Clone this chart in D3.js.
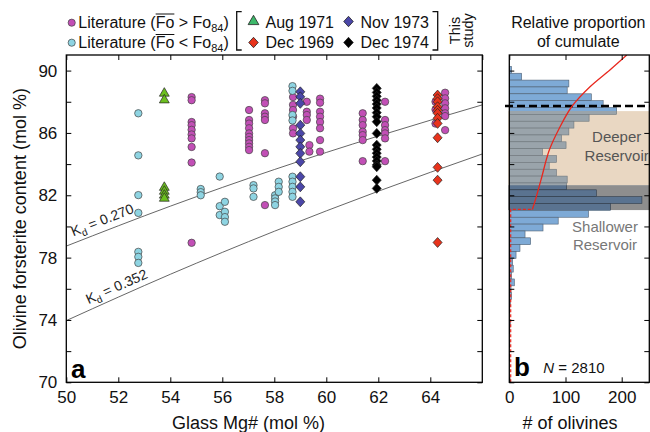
<!DOCTYPE html>
<html>
<head>
<meta charset="utf-8">
<script src="https://cdn.jsdelivr.net/npm/d3@7"></script>
<style>
body { margin: 0; background: #fff; }
svg { display: block; font-family: "Liberation Sans", Arial, Helvetica, sans-serif; }
</style>
</head>
<body>
<svg id="chart" width="650" height="432"></svg>
<script>
// ---- data ----
// each entry: [glass Mg#, [olivine Fo values...]]
const litHigh = [
    [54.82, [88.3, 88.1, 86.7, 86.5, 86.2, 85.9, 85.65, 85.1, 84.1, 78.95]],
    [57.03, [87.47, 86.83, 86.6, 86.3, 85.97, 85.75, 85.54, 85.33, 85.11, 84.9]],
    [57.64, [88.1, 87.9, 87.26, 87.04, 86.83, 84.7, 81.37]],
    [58.72, [88.3, 87.8, 87.47, 87.04, 86.3, 85.97]],
    [59.25, [88.0, 87.36, 87.15, 86.83]],
    [59.35, [85.22, 84.8]],
    [59.76, [88.2, 87.94, 87.36, 87.04, 86.7, 86.3, 85.54, 84.8]],
    [61.4, [87.26, 86.83, 86.5, 86.08, 85.86, 85.54, 84.19]],
    [62.26, [88.0, 86.83, 86.5, 86.18, 85.97, 85.65, 84.19]],
    [64.2, [88.0, 87.5, 86.6]],
    [64.57, [88.58, 88.22, 87.9, 87.58, 87.26, 87.08, 86.18]]
];
const litLow = [
    [52.77, [87.26, 84.56, 82.01, 80.87, 78.37, 78.05, 77.66]],
    [55.17, [82.4, 82.2, 82.0]],
    [55.9, [83.2, 81.3, 80.73]],
    [56.1, [81.58, 80.94, 80.6, 80.3]],
    [57.2, [82.65, 82.44, 81.9]],
    [58.03, [82.0, 81.8, 81.6, 81.37]],
    [58.17, [82.87, 82.54, 82.22]],
    [58.7, [89.0, 88.7, 87.15, 86.8, 83.19, 82.87, 82.54, 82.22, 81.9]]
];
const aug1971 = [[53.77, [88.54, 88.11, 82.5, 82.25, 82.0, 81.8]]];
const nov1973 = [[59.0, [88.64, 88.32, 87.9, 86.5, 85.97, 85.54, 85.11, 84.69, 84.15, 83.19, 82.54, 81.58]]];
const dec1974 = [[61.94, [88.86, 88.6, 88.35, 88.1, 87.85, 87.6, 87.3, 87.04, 86.72, 85.97,
                          85.22, 84.95, 84.7, 84.45, 84.2, 83.95, 83.83, 82.97, 82.44]]];
const dec1969 = [[64.28, [88.43, 88.2, 88.0, 87.68, 87.45, 87.26, 86.94, 86.61, 85.69, 83.79, 82.97, 78.97]]];

// equilibrium lines [Mg#, Fo]
const kd270 = [[50, 78.74], [54, 81.3], [58, 83.65], [62, 85.8], [66, 87.8]];
const kd352 = [[50, 73.96], [54, 76.93], [58, 79.69], [62, 82.26], [66, 84.65]];

// histogram of olivines (panel b), bins from the top down
const binTop = 90.27;
const binStep = 0.44;
const olivineCounts = [4, 22, 106, 103, 146, 167, 191, 142, 115, 106, 93, 101, 59, 84, 71, 84,
    103, 102, 155, 236, 180, 141, 87, 60, 28, 38, 19, 12, 6, 7, 4, 9, 3, 4, 2, 1,
    0, 2, 1, 0, 1, 0, 1, 0];

// relative proportion of cumulate curve [Fo, x in count units]
const cumFo = [81.09, 81.69, 83.0, 84.9, 86.3, 87.68, 88.96, 90.04, 91.0];
const cumVal = [41, 46.3, 56.5, 71.2, 89, 111, 143.6, 179, 209];
const cumTailFo = [70, 81.09, 81.09];
const cumTailVal = [2.5, 2.5, 41];

// reservoir zones
const fo84Line = 87.73;
const deepTop = 87.4, deepBottom = 82.65, bandBottom = 81.05;

const mgTicks = [50, 52, 54, 56, 58, 60, 62, 64];
const foTicks = [70, 72, 74, 76, 78, 80, 82, 84, 86, 88, 90];
const countTicks = [0, 100, 200];

// ---- scales ----
const svg = d3.select("#chart");
const x = d3.scaleLinear().domain([50, 66]).range([66.3, 482.3]);
const y = d3.scaleLinear().domain([70, 91]).range([382.3, 55]);
const xb = d3.scaleLinear().domain([0, 250]).range([509.3, 649.8]);

const flat = arr => arr.flatMap(([mg, fos]) => fos.map(fo => ({ mg, fo })));

// custom diamond
const diamond = {
    draw(ctx, size) {
        const w = Math.sqrt(size) / 2, h = w * 1.1;
        ctx.moveTo(0, -h); ctx.lineTo(w, 0); ctx.lineTo(0, h); ctx.lineTo(-w, 0); ctx.closePath();
    }
};

const colHigh = "#c24fb6", colLow = "#8ed4e2";

// ---- panel a ----
const defs = svg.append("defs");
defs.append("clipPath").attr("id", "clipA").append("rect")
    .attr("x", x(50)).attr("y", y(91)).attr("width", x(66) - x(50)).attr("height", y(70) - y(91));

const line = d3.line().x(d => x(d[0])).y(d => y(d[1])).curve(d3.curveMonotoneX);
[kd270, kd352].forEach(pts => {
    svg.append("path").attr("d", line(pts)).attr("fill", "none")
        .attr("stroke", "#555").attr("stroke-width", 0.9).attr("clip-path", "url(#clipA)");
});

function kdLabel(mg, fo, angle, val) {
    const t = svg.append("text")
        .attr("transform", `translate(${x(mg)},${y(fo)}) rotate(${angle})`)
        .attr("font-size", 14).attr("fill", "#222");
    t.append("tspan").text("K");
    t.append("tspan").attr("font-size", 10).attr("dy", 3.5).text("d");
    t.append("tspan").attr("dy", -3.5).text(" = " + val);
}
kdLabel(50.27, 79.35, -21.5, "0.270");
kdLabel(50.85, 75.0, -24, "0.352");

svg.append("g").selectAll("circle").data(flat(litHigh)).join("circle")
    .attr("cx", d => x(d.mg)).attr("cy", d => y(d.fo)).attr("r", 3.7)
    .attr("fill", colHigh).attr("stroke", "#444").attr("stroke-width", 0.7);
svg.append("g").selectAll("circle").data(flat(litLow)).join("circle")
    .attr("cx", d => x(d.mg)).attr("cy", d => y(d.fo)).attr("r", 3.7)
    .attr("fill", colLow).attr("stroke", "#444").attr("stroke-width", 0.7);

function symbols(data, type, size, fill) {
    svg.append("g").selectAll("path").data(flat(data)).join("path")
        .attr("transform", d => `translate(${x(d.mg)},${y(d.fo)})`)
        .attr("d", d3.symbol().type(type).size(size))
        .attr("fill", fill).attr("stroke", "#222").attr("stroke-width", 0.7);
}
symbols(aug1971, d3.symbolTriangle, 42, "#6cbf1f");
symbols(nov1973, diamond, 81, "#4b47a8");
symbols(dec1974, diamond, 81, "#000");
symbols(dec1969, diamond, 81, "#e8331c");

// frame + axes of panel a
function styleAxis(g, size) {
    g.attr("font-family", null).attr("font-size", size);
    g.select(".domain").remove();
    g.selectAll("text").attr("fill", "#111");
    g.selectAll(".tick line").attr("stroke", "#000").attr("stroke-width", 1);
}
svg.append("g").attr("transform", `translate(0,${y(70)})`)
    .call(d3.axisBottom(x).tickValues(mgTicks).tickSize(-5).tickPadding(9))
    .call(g => styleAxis(g, 17));
svg.append("g").attr("transform", `translate(0,${y(91)})`)
    .call(d3.axisTop(x).tickValues(mgTicks.concat([66])).tickSize(-5).tickFormat(""))
    .call(g => styleAxis(g, 17));
svg.append("g").attr("transform", `translate(${x(50)},0)`)
    .call(d3.axisLeft(y).tickValues(foTicks).tickSize(-5).tickPadding(9)
        .tickFormat(d => (d - 70) % 4 === 0 ? d : ""))
    .call(g => styleAxis(g, 17));
svg.append("g").attr("transform", `translate(${x(66)},0)`)
    .call(d3.axisRight(y).tickValues(foTicks).tickSize(-5).tickFormat(""))
    .call(g => styleAxis(g, 17));
svg.append("rect")
    .attr("x", x(50)).attr("y", y(91)).attr("width", x(66) - x(50)).attr("height", y(70) - y(91))
    .attr("fill", "none").attr("stroke", "#000").attr("stroke-width", 1.3);

svg.append("text").attr("x", 71).attr("y", 378).attr("font-size", 26).attr("font-weight", "bold").text("a");
svg.append("text").attr("x", 248.5).attr("y", 428.5).attr("text-anchor", "middle")
    .attr("font-size", 18).attr("fill", "#111").text("Glass Mg# (mol %)");
svg.append("text").attr("transform", `translate(25.5,${(y(70) + y(91)) / 2}) rotate(-90)`)
    .attr("text-anchor", "middle").attr("font-size", 18).attr("fill", "#111")
    .text("Olivine forsterite content (mol %)");

// ---- legend ----
function litLegend(cy, base, fill, sign) {
    svg.append("circle").attr("cx", 71.7).attr("cy", cy).attr("r", 3.6)
        .attr("fill", fill).attr("stroke", "#444").attr("stroke-width", 0.7);
    const t = svg.append("text").attr("x", 78.3).attr("y", base).attr("font-size", 16).attr("fill", "#111");
    t.append("tspan").text("Literature (Fo " + sign + " Fo");
    t.append("tspan").attr("font-size", 11).attr("dy", 4).text("84");
    t.append("tspan").attr("dy", -4).text(")");
    const n = t.node();
    const x0 = n.getStartPositionOfChar(12).x, x1 = n.getEndPositionOfChar(13).x;
    svg.append("line").attr("x1", x0).attr("x2", x1).attr("y1", base - 13.5).attr("y2", base - 13.5)
        .attr("stroke", "#111").attr("stroke-width", 1);
}
litLegend(22.7, 27.5, colHigh, ">");
litLegend(42.7, 48, colLow, "<");

svg.append("path").attr("d", "M241.7,11.7H236.7V50H241.7").attr("fill", "none").attr("stroke", "#111").attr("stroke-width", 1.3);
svg.append("path").attr("d", "M432.5,11.7H437.7V50H432.5").attr("fill", "none").attr("stroke", "#111").attr("stroke-width", 1.3);

const studyLegend = [
    { label: "Aug 1971", type: d3.symbolTriangle, size: 50, fill: "#3db86a", lx: 253.5, ly: 21.5, base: 27.5 },
    { label: "Nov 1973", type: diamond, size: 90, fill: "#4b47a8", lx: 348.5, ly: 21.5, base: 27.5 },
    { label: "Dec 1969", type: diamond, size: 90, fill: "#e8331c", lx: 253.5, ly: 42.5, base: 48 },
    { label: "Dec 1974", type: diamond, size: 90, fill: "#000", lx: 348.5, ly: 42.5, base: 48 }
];
studyLegend.forEach(d => {
    svg.append("path").attr("transform", `translate(${d.lx},${d.ly})`)
        .attr("d", d3.symbol().type(d.type).size(d.size))
        .attr("fill", d.fill).attr("stroke", "#222").attr("stroke-width", 0.8);
    svg.append("text").attr("x", d.lx + 12).attr("y", d.base).attr("font-size", 16)
        .attr("fill", "#111").text(d.label);
});
svg.append("text").attr("transform", "translate(460,30.5) rotate(-90)").attr("text-anchor", "middle")
    .attr("font-size", 14.5).attr("fill", "#111").text("This");
svg.append("text").attr("transform", "translate(472.5,30.5) rotate(-90)").attr("text-anchor", "middle")
    .attr("font-size", 14.5).attr("fill", "#111").text("study");

// ---- panel b ----
defs.append("clipPath").attr("id", "clipB").append("rect")
    .attr("x", xb(0)).attr("y", y(91)).attr("width", xb(250) - xb(0)).attr("height", y(70) - y(91));

svg.append("rect").attr("x", xb(0) - 1).attr("y", y(deepTop)).attr("width", xb(250) - xb(0) + 1)
    .attr("height", y(deepBottom) - y(deepTop)).attr("fill", "#e9d7c2");
svg.append("rect").attr("x", xb(0) - 1).attr("y", y(deepBottom)).attr("width", xb(250) - xb(0) + 1)
    .attr("height", y(bandBottom) - y(deepBottom)).attr("fill", "#8e8e8e");

const bins = olivineCounts.map((c, i) => ({ top: binTop - i * binStep, bottom: binTop - (i + 1) * binStep, count: c }))
    .filter(d => d.count > 0);

const zones = [
    { id: "zHigh", hi: 91, lo: deepTop, fill: "#7eaad6", stroke: "#4f6072" },
    { id: "zDeep", hi: deepTop, lo: deepBottom, fill: "#9aa4ab", stroke: "#6d767c" },
    { id: "zBand", hi: deepBottom, lo: bandBottom, fill: "#5a7390", stroke: "#2f3b48" },
    { id: "zLow", hi: bandBottom, lo: 70, fill: "#7eaad6", stroke: "#4f6072" }
];
zones.forEach(z => {
    defs.append("clipPath").attr("id", z.id).append("rect")
        .attr("x", xb(0) - 2).attr("y", y(z.hi)).attr("width", xb(250) - xb(0) + 2).attr("height", y(z.lo) - y(z.hi));
    svg.append("g").attr("clip-path", `url(#${z.id})`)
        .selectAll("rect").data(bins).join("rect")
        .attr("x", xb(0)).attr("y", d => y(d.top))
        .attr("width", d => xb(d.count) - xb(0)).attr("height", d => y(d.bottom) - y(d.top))
        .attr("fill", z.fill).attr("stroke", z.stroke).attr("stroke-width", 0.6);
});

svg.append("line").attr("x1", 505).attr("x2", 650).attr("y1", y(fo84Line)).attr("y2", y(fo84Line))
    .attr("stroke", "#000").attr("stroke-width", 2.6).attr("stroke-dasharray", "8,4");

const cumLine = d3.line().x(d => xb(d[1])).y(d => y(d[0])).curve(d3.curveCatmullRom.alpha(0.5));
svg.append("path").attr("d", cumLine(cumFo.map((f, i) => [f, cumVal[i]])))
    .attr("fill", "none").attr("stroke", "#e8281e").attr("stroke-width", 1.3).attr("clip-path", "url(#clipB)");
svg.append("path").attr("d", d3.line().x(d => xb(d[1])).y(d => y(d[0]))(cumTailFo.map((f, i) => [f, cumTailVal[i]])))
    .attr("fill", "none").attr("stroke", "#e8281e").attr("stroke-width", 1.2).attr("stroke-dasharray", "3,2");

svg.append("g").attr("transform", `translate(0,${y(70)})`)
    .call(d3.axisBottom(xb).tickValues(countTicks).tickSize(-5).tickPadding(9))
    .call(g => styleAxis(g, 17));
svg.append("g").attr("transform", `translate(0,${y(91)})`)
    .call(d3.axisTop(xb).tickValues(countTicks).tickSize(-5).tickFormat(""))
    .call(g => styleAxis(g, 17));
svg.append("g").attr("transform", `translate(${xb(0)},0)`)
    .call(d3.axisLeft(y).tickValues(foTicks).tickSize(-5).tickFormat(""))
    .call(g => styleAxis(g, 17));
svg.append("g").attr("transform", `translate(${xb(250) - 0.5},0)`)
    .call(d3.axisRight(y).tickValues(foTicks).tickSize(-5).tickFormat(""))
    .call(g => styleAxis(g, 17));
svg.append("rect")
    .attr("x", xb(0)).attr("y", y(91)).attr("width", xb(250) - xb(0) - 0.5).attr("height", y(70) - y(91))
    .attr("fill", "none").attr("stroke", "#000").attr("stroke-width", 1.3);

svg.append("text").attr("x", 616.7).attr("y", 141.5).attr("text-anchor", "middle").attr("font-size", 15)
    .attr("fill", "#555").text("Deeper");
svg.append("text").attr("x", 616.7).attr("y", 161).attr("text-anchor", "middle").attr("font-size", 15)
    .attr("fill", "#555").text("Reservoir");
svg.append("text").attr("x", 605).attr("y", 231.5).attr("text-anchor", "middle").attr("font-size", 15)
    .attr("fill", "#777").text("Shallower");
svg.append("text").attr("x", 605).attr("y", 250).attr("text-anchor", "middle").attr("font-size", 15)
    .attr("fill", "#777").text("Reservoir");

svg.append("text").attr("x", 578.3).attr("y", 28).attr("text-anchor", "middle").attr("font-size", 16)
    .attr("fill", "#111").text("Relative proportion");
svg.append("text").attr("x", 578.3).attr("y", 46.7).attr("text-anchor", "middle").attr("font-size", 16)
    .attr("fill", "#111").text("of cumulate");

svg.append("text").attr("x", 514).attr("y", 376).attr("font-size", 26).attr("font-weight", "bold").text("b");
const nt = svg.append("text").attr("x", 543.3).attr("y", 373.3).attr("font-size", 15).attr("fill", "#111");
nt.append("tspan").attr("font-style", "italic").text("N");
nt.append("tspan").text(" = 2810");

svg.append("text").attr("x", 570).attr("y", 428.5).attr("text-anchor", "middle")
    .attr("font-size", 18).attr("fill", "#111").text("# of olivines");
</script>
</body>
</html>
